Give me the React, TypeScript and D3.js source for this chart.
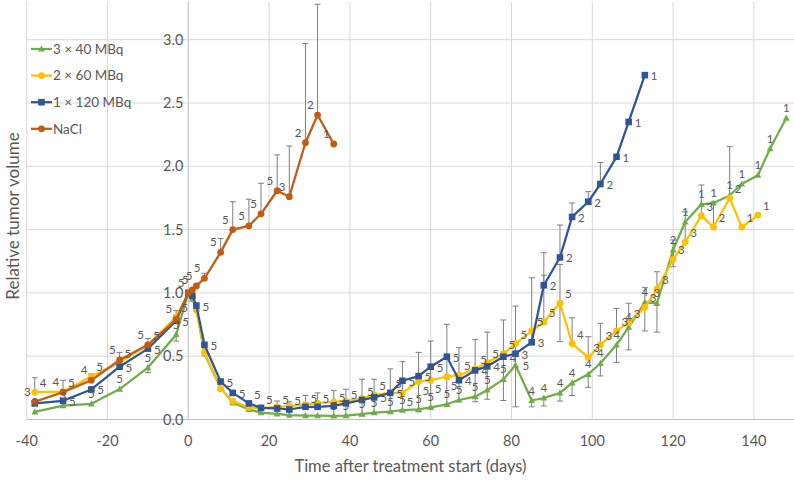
import React from 'react';
import * as d3 from 'd3';

const W = 794;
const H = 482;

// Measurement days (days after treatment start)
const days = [-38, -31, -24, -17, -10, -3, 0, 1, 2, 4, 8, 11, 15, 18, 22, 25, 29, 32, 36, 39, 43, 46, 50, 53, 57, 60, 64, 67, 71, 74, 78, 81, 85, 88, 92, 95, 99, 102, 106, 109, 113, 116, 120, 123, 127, 130, 134, 137, 141, 144, 148];

// Relative tumor volume, aligned with days (shorter arrays end earlier)
const green3x40 = [0.06, 0.11, 0.124, 0.24, 0.41, 0.67, 1.0, 0.95, 0.87, 0.52, 0.25, 0.135, 0.079, 0.055, 0.045, 0.035, 0.03, 0.03, 0.028, 0.03, 0.043, 0.054, 0.062, 0.075, 0.08, 0.096, 0.12, 0.154, 0.18, 0.233, 0.317, 0.43, 0.15, 0.17, 0.21, 0.29, 0.357, 0.444, 0.59, 0.73, 0.926, 0.918, 1.34, 1.56, 1.7, 1.71, 1.77, 1.86, 1.93, 2.14, 2.38];
const yellow2x60 = [0.216, 0.22, 0.34, 0.45, 0.59, 0.81, 1.0, 0.97, 0.865, 0.53, 0.243, 0.145, 0.095, 0.09, 0.1, 0.105, 0.12, 0.13, 0.14, 0.145, 0.167, 0.194, 0.21, 0.21, 0.3, 0.31, 0.338, 0.35, 0.4, 0.45, 0.52, 0.6, 0.7, 0.77, 0.92, 0.6, 0.49, 0.59, 0.7, 0.765, 0.886, 1.03, 1.265, 1.4, 1.61, 1.52, 1.75, 1.52, 1.615];
const blue1x120 = [0.127, 0.148, 0.237, 0.417, 0.56, 0.78, 1.0, 0.975, 0.9, 0.59, 0.3, 0.21, 0.127, 0.092, 0.087, 0.079, 0.1, 0.1, 0.107, 0.128, 0.154, 0.175, 0.21, 0.306, 0.343, 0.417, 0.496, 0.31, 0.388, 0.42, 0.496, 0.52, 0.61, 1.06, 1.28, 1.6, 1.72, 1.86, 2.075, 2.35, 2.72];
const naclV = [0.14, 0.216, 0.31, 0.47, 0.59, 0.79, 1.0, 1.023, 1.055, 1.115, 1.32, 1.5, 1.53, 1.625, 1.807, 1.76, 2.186, 2.405, 2.176];

// Number of animals (data labels)
const greenN = ['2', '3', '5', '5', '5', '5', '', '', '', '', '', '', '', '', '', '', '', '', '5', '5', '5', '5', '5', '5', '5', '5', '5', '5', '5', '5', '5', '5', '4', '4', '4', '4', '4', '4', '4', '4', '4', '3', '2', '1', '1', '1', '1', '1', '1', '1', '1'];
const yellowN = ['4', '5', '5', '5', '5', '5', '', '', '', '', '', '', '', '', '', '', '', '', '', '', '', '5', '5', '5', '5', '5', '5', '5', '5', '5', '5', '5', '5', '5', '5', '4', '3', '3', '3', '3', '3', '3', '3', '3', '3', '2', '2', '1', '1'];
const blueN = ['', '5', '5', '5', '5', '5', '', '', '5', '5', '5', '5', '5', '5', '5', '5', '5', '5', '5', '5', '5', '5', '5', '5', '5', '5', '5', '4', '4', '4', '4', '3', '3', '2', '2', '2', '2', '2', '1', '1', '1'];
const naclN = ['3', '4', '4', '5', '5', '5', '5', '5', '5', '5', '5', '5', '5', '5', '5', '3', '2', '2', '1'];

// Error bars: [day, lower end, upper end]
const greenErr = [[-10, 0.37, null], [-3, 0.62, null], [11, 0.115, null], [36, 0.017, 0.228], [39, 0.017, 0.239], [43, 0.03, 0.318], [46, 0.045, 0.318], [50, 0.05, 0.4], [53, 0.06, 0.457], [57, 0.06, 0.53], [60, 0.09, 0.62], [64, 0.107, 0.752], [67, 0.14, 0.567], [71, 0.14, 0.633], [74, 0.16, 0.69], [78, 0.15, 0.786], [81, 0.1, 0.896], [85, 0.1, null], [88, 0.107, null], [92, 0.146, null], [95, 0.19, null], [99, 0.254, null], [102, 0.344, null], [106, 0.452, null], [109, 0.55, null], [113, 0.7, null], [116, 0.69, null], [120, 1.207, null]];
const yellowErr = [[-38, null, 0.33], [-31, null, 0.31], [-24, null, 0.36], [-17, null, 0.53], [-10, null, 0.64], [-3, null, 0.86], [22, 0.09, 0.146], [25, 0.085, 0.14], [29, 0.1, 0.19], [32, 0.105, 0.21], [88, null, 1.14], [92, 0.615, 1.225], [95, null, 0.804], [99, null, 0.654], [102, null, 0.76], [106, null, 0.878], [109, null, 0.918], [113, null, 1.044], [116, null, 1.167], [120, null, 1.418], [123, null, 1.64], [127, null, 1.852], [130, null, 1.72], [134, null, 2.155]];
const blueErr = [[85, null, 1.12], [88, null, 1.317], [92, null, 1.536], [95, null, 1.71], [99, null, 1.8], [102, null, 2.03]];
const naclErr = [[4, null, 1.155], [8, null, 1.43], [11, null, 1.72], [15, null, 1.74], [18, null, 1.866], [22, null, 2.09], [25, null, 2.16], [29, null, 2.97], [32, null, 3.28]];

const xTicks = [-40, -20, 0, 20, 40, 60, 80, 100, 120, 140];
const yTicks = [0, 0.5, 1.0, 1.5, 2.0, 2.5, 3.0];
const legendNames = ['3 × 40 MBq', '2 × 60 MBq', '1 × 120 MBq', 'NaCl'];

const FONT = "Lato, 'Noto Sans', sans-serif";
const TXT = '#595959';

type Lab = { dx: number; dy: number; anchor: string };
type Series = {
  name: string;
  values: number[];
  labels: string[];
  err: (number | null)[][];
  color: string;
  marker: 'tri' | 'circle' | 'square';
  lab: Lab;
};

const series: Series[] = [
  { name: legendNames[0], values: green3x40, labels: greenN, err: greenErr, color: '#70AD47', marker: 'tri', lab: { dx: 0, dy: -6, anchor: 'middle' } },
  { name: legendNames[1], values: yellow2x60, labels: yellowN, err: yellowErr, color: '#FFC000', marker: 'circle', lab: { dx: 5, dy: -5, anchor: 'start' } },
  { name: legendNames[2], values: blue1x120, labels: blueN, err: blueErr, color: '#2F5597', marker: 'square', lab: { dx: 6, dy: 5, anchor: 'start' } },
  { name: legendNames[3], values: naclV, labels: naclN, err: naclErr, color: '#C55A11', marker: 'circle', lab: { dx: -4, dy: -6, anchor: 'end' } },
];

// label placement style tweaks to keep labels apart, as in the original
function labelPlace(s: Series, day: number): Lab {
  if (s.name === legendNames[1] && day >= 53 && day <= 64) return { dx: 4, dy: 13, anchor: 'start' };
  if (s.name === legendNames[2] && day >= 15 && day <= 43) return { dx: 5, dy: -4, anchor: 'start' };
  if (s.name === legendNames[0] && day === 81) return { dx: 7, dy: 5, anchor: 'start' };
  return s.lab;
}

const x = d3.scaleLinear().domain([-40, 150]).range([26.7, 794.3]);
const y = d3.scaleLinear().domain([0, 3.3]).range([419.5, 419.5 - 3.3 * 126.6]);

function Marker({ kind, cx, cy, color }: { kind: string; cx: number; cy: number; color: string }) {
  if (kind === 'square') return <rect x={cx - 3.3} y={cy - 3.3} width={6.6} height={6.6} fill={color} />;
  if (kind === 'tri') return <path d={`M${cx},${cy - 3.6} L${cx + 3.4},${cy + 2.6} L${cx - 3.4},${cy + 2.6} Z`} fill={color} />;
  return <circle cx={cx} cy={cy} r={3.4} fill={color} />;
}

export default function App() {
  const line = d3.line<number>().x((_, i) => x(days[i])).y((v) => y(v));
  const valAt = (s: Series, day: number) => s.values[days.indexOf(day)];

  return (
    <svg width={W} height={H} style={{ position: 'absolute', left: 0, top: 0, background: '#fff' }} fontFamily={FONT}>
      {/* gridlines */}
      {yTicks.map((t) => (
        <line key={'gy' + t} x1={x(-40)} x2={x(150)} y1={y(t)} y2={y(t)} stroke="#D9D9D9" strokeWidth={1} />
      ))}
      {xTicks.map((t) => (
        <line key={'gx' + t} x1={x(t)} x2={x(t)} y1={y(0)} y2={y(3.3)} stroke="#D9D9D9" strokeWidth={1} />
      ))}
      <line x1={x(-40)} x2={x(150)} y1={y(0)} y2={y(0)} stroke="#BFBFBF" strokeWidth={1} />
      <line x1={x(0)} x2={x(0)} y1={y(0)} y2={y(3.3)} stroke="#C8C8C8" strokeWidth={1} />

      {/* y tick labels */}
      {yTicks.map((t) => (
        <text key={'ty' + t} x={x(0) - 5} y={y(t) + 5} textAnchor="end" fontSize={14.5} fill={TXT}>
          {t.toFixed(1)}
        </text>
      ))}
      {/* x tick labels */}
      {xTicks.map((t) => (
        <text key={'tx' + t} x={x(t)} y={446} textAnchor="middle" fontSize={14.5} fill={TXT}>
          {t}
        </text>
      ))}
      <text x={x(55)} y={472} textAnchor="middle" fontSize={16.5} fill={TXT}>
        Time after treatment start (days)
      </text>
      <text transform={`translate(19,${216}) rotate(-90)`} textAnchor="middle" fontSize={17} fill={TXT}>
        Relative tumor volume
      </text>

      {/* error bars */}
      {series.map((s) =>
        s.err.map((e, i) => {
          const day = e[0] as number;
          const v = valAt(s, day);
          const lo = e[1] as number | null;
          const hi = e[2] as number | null;
          const cx = x(day);
          const y1 = y(lo ?? v);
          const y2 = y(hi ?? v);
          return (
            <g key={s.name + 'e' + i} stroke="#7F7F7F" strokeWidth={1}>
              <line x1={cx} x2={cx} y1={y1} y2={y2} />
              {hi != null && <line x1={cx - 3} x2={cx + 3} y1={y2} y2={y2} />}
              {lo != null && <line x1={cx - 3} x2={cx + 3} y1={y1} y2={y1} />}
            </g>
          );
        })
      )}

      {/* lines and markers */}
      {series.map((s) => (
        <g key={s.name + 'l'}>
          <path d={line(s.values) ?? ''} fill="none" stroke={s.color} strokeWidth={2.25} strokeLinejoin="round" />
          {s.values.map((v, i) => (
            <Marker key={i} kind={s.marker} cx={x(days[i])} cy={y(v)} color={s.color} />
          ))}
        </g>
      ))}

      {/* data labels */}
      {series.map((s) =>
        s.values.map((v, i) => {
          if (!s.labels[i]) return null;
          const p = labelPlace(s, days[i]);
          return (
            <text key={s.name + 't' + i} x={x(days[i]) + p.dx} y={y(v) + p.dy} textAnchor={p.anchor} fontSize={11.5} fill={TXT}>
              {s.labels[i]}
            </text>
          );
        })
      )}

      {/* legend */}
      {series.map((s, i) => {
        const ly = 49 + i * 26.6;
        return (
          <g key={s.name + 'lg'}>
            <line x1={31} x2={52} y1={ly} y2={ly} stroke={s.color} strokeWidth={2.25} />
            <Marker kind={s.marker} cx={41.5} cy={ly} color={s.color} />
            <text x={53} y={ly + 4.8} fontSize={13.5} fill={TXT}>
              {s.name}
            </text>
          </g>
        );
      })}
    </svg>
  );
}
